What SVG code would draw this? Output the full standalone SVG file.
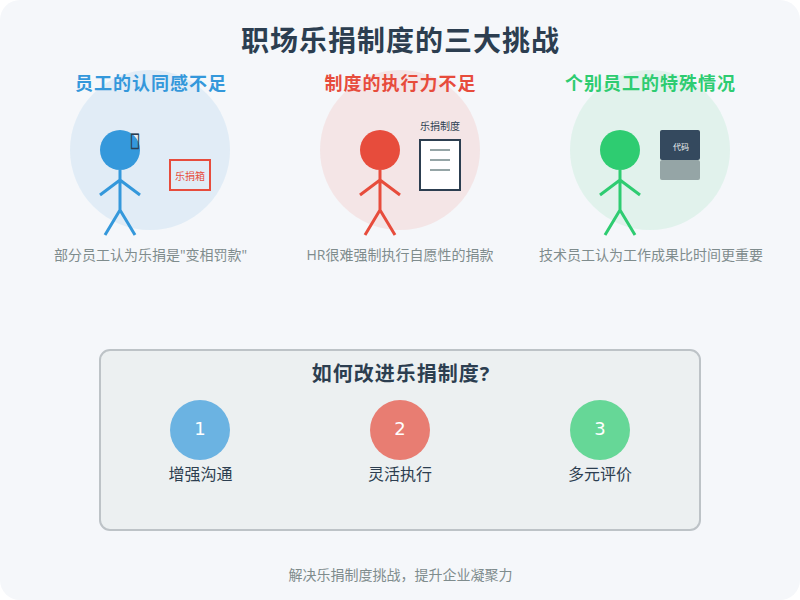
<svg xmlns="http://www.w3.org/2000/svg" width="800" height="600" viewBox="0 0 800 600">
<style>
text{font-family:"Open Sans","Noto Sans CJK SC",sans-serif;text-anchor:middle}
.b{font-weight:bold;letter-spacing:1px}
.t{font-size:18px}
.d{font-size:14px;fill:#7f8c8d}
.l{stroke-width:3;fill:none}
.m{stroke:#95a5a6;stroke-width:2}
.o{font-size:16px;fill:#2c3e50}
.n{font-size:18px;fill:#fff;font-family:"DejaVu Sans",sans-serif}
</style>
<rect width="800" height="600" rx="20" fill="#f5f7fa"/>
<text class="b" x="400.5" y="51" font-size="28" fill="#2c3e50">职场乐捐制度的三大挑战</text>
<g id="challenge1">
<circle cx="150" cy="150" r="80" fill="#3498db" opacity="0.1"/>
<text class="t b" x="151" y="90" fill="#3498db">员工的认同感不足</text>
<circle cx="120" cy="150" r="20" fill="#3498db"/>
<path class="l" stroke="#3498db" d="M120 170V210M120 180L100 195M120 180L140 195M120 210L105 235M120 210L135 235"/>
<text transform="translate(135 149) scale(.67 1.12)" font-size="20" fill="#2c3e50" stroke="#2c3e50" stroke-width=".6" style="font-family:'Liberation Sans'">&#xE000;</text>
<rect x="170" y="160" width="40" height="30" fill="none" stroke="#e74c3c" stroke-width="2"/>
<text x="190" y="180" font-size="10" fill="#e74c3c">乐捐箱</text>
<text class="d" x="150.5" y="260">部分员工认为乐捐是"变相罚款"</text>
</g>
<g id="challenge2">
<circle cx="400" cy="150" r="80" fill="#e74c3c" opacity="0.1"/>
<text class="t b" x="400.5" y="90" fill="#e74c3c">制度的执行力不足</text>
<circle cx="380" cy="150" r="20" fill="#e74c3c"/>
<path class="l" stroke="#e74c3c" d="M380 170V210M380 180L360 195M380 180L400 195M380 210L365 235M380 210L395 235"/>
<rect x="420" y="140" width="40" height="50" fill="#fff" stroke="#2c3e50" stroke-width="2"/>
<path class="m" d="M430 150H450M430 160H450M430 170H450"/>
<text x="440" y="130" font-size="10" fill="#2c3e50">乐捐制度</text>
<text class="d" x="400" y="260">HR很难强制执行自愿性的捐款</text>
</g>
<g id="challenge3">
<circle cx="650" cy="150" r="80" fill="#2ecc71" opacity="0.1"/>
<text class="t b" x="650.5" y="90" fill="#2ecc71">个别员工的特殊情况</text>
<circle cx="620" cy="150" r="20" fill="#2ecc71"/>
<path class="l" stroke="#2ecc71" d="M620 170V210M620 180L600 195M620 180L640 195M620 210L605 235M620 210L635 235"/>
<rect x="660" y="130" width="40" height="30" rx="2" fill="#34495e"/>
<rect x="660" y="160" width="40" height="20" rx="2" fill="#95a5a6"/>
<text x="681" y="150" font-size="8" fill="#ecf0f1">代码</text>
<text class="d" x="651" y="260">技术员工认为工作成果比时间更重要</text>
</g>
<g id="improve">
<rect x="100" y="350" width="600" height="180" rx="10" fill="#ecf0f1" stroke="#bdc3c7" stroke-width="2"/>
<text class="b" x="401" y="381" font-size="20" fill="#2c3e50">如何改进乐捐制度?</text>
</g>
<g id="step1">
<circle cx="200" cy="430" r="30" fill="#3498db" opacity="0.7"/>
<text class="n" x="200" y="435">1</text>
<text class="o" x="200.5" y="480">增强沟通</text>
</g>
<g id="step2">
<circle cx="400" cy="430" r="30" fill="#e74c3c" opacity="0.7"/>
<text class="n" x="400" y="435">2</text>
<text class="o" x="400" y="480">灵活执行</text>
</g>
<g id="step3">
<circle cx="600" cy="430" r="30" fill="#2ecc71" opacity="0.7"/>
<text class="n" x="600" y="435">3</text>
<text class="o" x="600" y="480">多元评价</text>
</g>
<text x="400.5" y="580" font-size="14" fill="#7f8c8d">解决乐捐制度挑战，提升企业凝聚力</text>
</svg>
